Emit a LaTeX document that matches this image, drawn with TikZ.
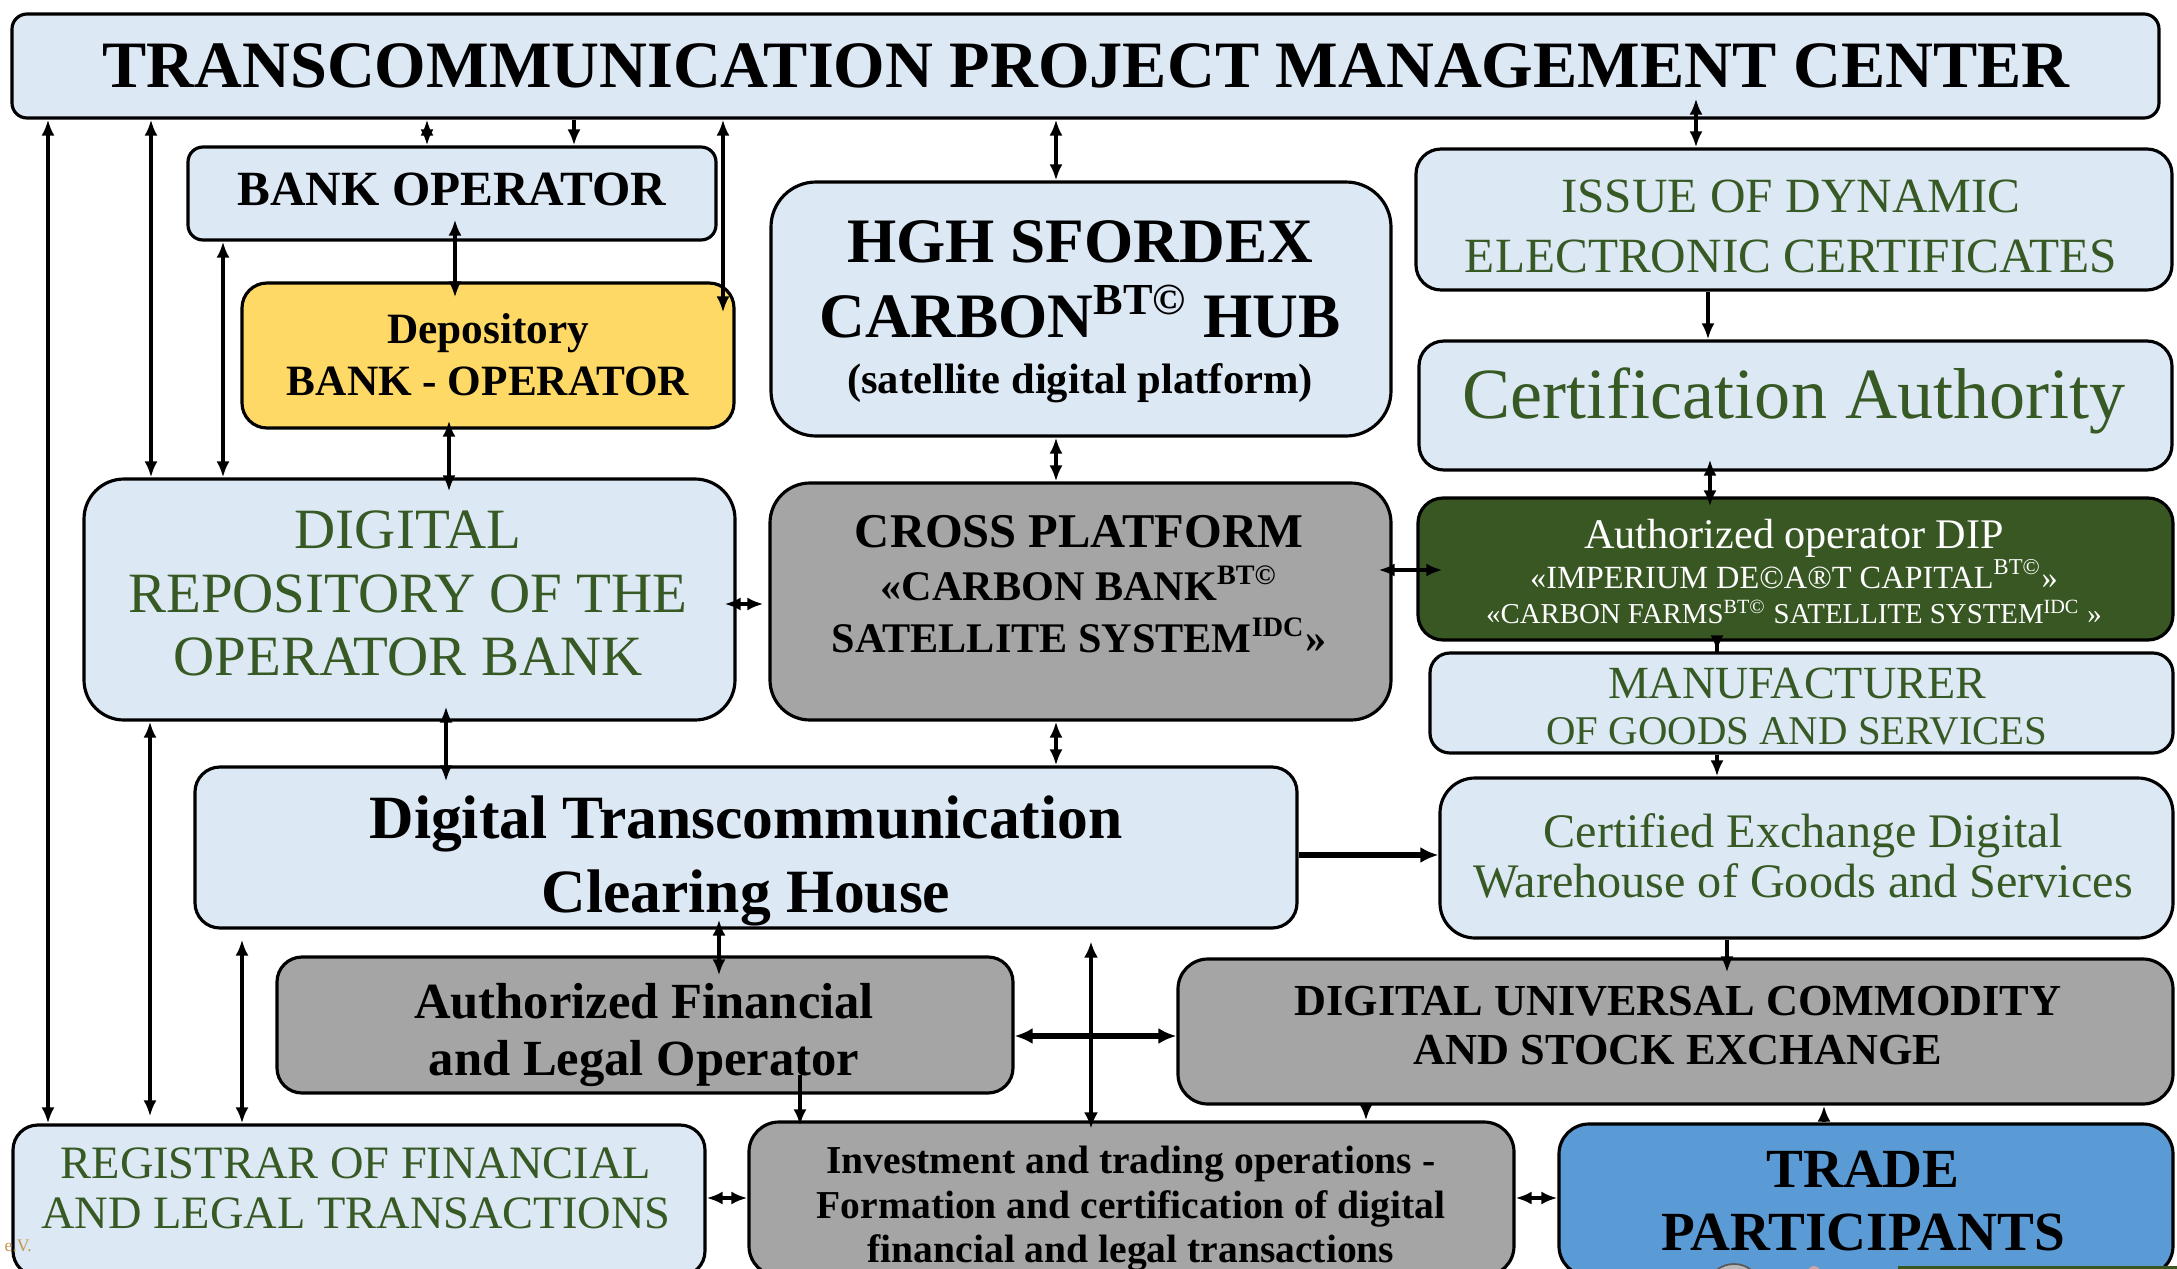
\documentclass[tikz,border=0pt]{standalone}
\usepackage{fontspec}
\setmainfont{Liberation Serif}
\usetikzlibrary{arrows.meta,fit,calc}
\definecolor{lblue}{HTML}{DDE8F5}
\definecolor{gbox}{HTML}{A5A5A5}
\definecolor{ybox}{HTML}{FFD966}
\definecolor{dgreen}{HTML}{385723}
\definecolor{gtext}{HTML}{375A24}
\definecolor{bbox}{HTML}{5B9BD5}
\definecolor{evcol}{HTML}{C4964E}
\newcommand{\fsz}[1]{\fontsize{#1}{#1}\selectfont}
\begin{document}
\begin{tikzpicture}[x=0.01cm,y=-0.01cm,
  box/.style={draw=black,line width=0.9pt,inner sep=0pt},
  bluebox/.style={box,fill=lblue},
  graybox/.style={box,fill=gbox},
  tx/.style={anchor=base,inner sep=0pt},
  gtx/.style={tx,text=gtext},
  a1/.style={-{Latex[length=0.16cm,width=0.13cm]},line width=1.05pt},
  a2/.style={{Latex[length=0.16cm,width=0.13cm]}-{Latex[length=0.16cm,width=0.13cm]},line width=1.05pt},
  a1t/.style={-{Latex[length=0.18cm,width=0.16cm]},line width=1.7pt},
  a2t/.style={{Latex[length=0.18cm,width=0.16cm]}-{Latex[length=0.18cm,width=0.16cm]},line width=1.7pt},
  a2m/.style={{Latex[length=0.16cm,width=0.14cm]}-{Latex[length=0.16cm,width=0.14cm]},line width=1.3pt}
]
\useasboundingbox (0,0) rectangle (2177,1269);
\clip (0,0) rectangle (2177,1269);
\fill[white] (0,0) rectangle (2177,1269);

% ---------- boxes ----------
\node[bluebox,rounded corners=0.15cm,fit={(12,14) (2159,118)}] (top) {};
\node[bluebox,rounded corners=0.15cm,fit={(188,147) (716,240)}] (bank) {};
\node[box,fill=ybox,rounded corners=0.25cm,fit={(242,283) (734,428)}] (dep) {};
\node[bluebox,rounded corners=0.45cm,fit={(771,182) (1391,436)}] (hgh) {};
\node[bluebox,rounded corners=0.25cm,fit={(1416,149) (2172,290)}] (issue) {};
\node[bluebox,rounded corners=0.25cm,fit={(1419,341) (2172,470)}] (cert) {};
\node[bluebox,rounded corners=0.4cm,fit={(84,479) (735,720)}] (repo) {};
\node[graybox,rounded corners=0.4cm,fit={(770,483) (1391,720)}] (cross) {};
\node[box,fill=dgreen,rounded corners=0.25cm,fit={(1418,498) (2173,640)}] (dip) {};
\node[bluebox,rounded corners=0.2cm,fit={(1430,653) (2173,753)}] (manu) {};
\node[bluebox,rounded corners=0.35cm,fit={(1440,778) (2173,938)}] (certx) {};
\node[bluebox,rounded corners=0.25cm,fit={(195,767) (1297,928)}] (clear) {};
\node[graybox,rounded corners=0.25cm,fit={(277,957) (1013,1093)}] (af) {};
\node[graybox,rounded corners=0.3cm,fit={(1178,959) (2173,1104)}] (du) {};
\node[bluebox,rounded corners=0.25cm,fit={(13,1125) (705,1276)}] (reg) {};
\node[graybox,rounded corners=0.3cm,fit={(749,1122) (1514,1276)}] (inv) {};
\node[box,fill=bbox,rounded corners=0.3cm,fit={(1559,1124) (2173,1276)}] (trade) {};

% small cut-off details at the bottom edge
\draw[fill=gray!55,draw=gray!70!black,line width=0.5pt] (1734,1284) ellipse [x radius=24,y radius=20];
\fill[pink!60!gray] (1814,1272) circle [radius=6];
\fill[dgreen] (1898,1266) rectangle (2177,1270);

% ---------- texts ----------
\node[tx,font=\fsz{18.85}\bfseries] (tTitle) at (1086,87) {TRANSCOMMUNICATION PROJECT MANAGEMENT CENTER};
\node[tx,font=\fsz{14}\bfseries] (tBank) at (452,205) {BANK OPERATOR};
\node[tx,font=\fsz{12.3}\bfseries] (tDep1) at (488,343) {Depository};
\node[tx,font=\fsz{12.3}\bfseries] (tDep2) at (488,395) {BANK - OPERATOR};
\node[tx,font=\fsz{18}\bfseries] (tHgh1) at (1080,262) {HGH SFORDEX};
\node[tx,font=\fsz{18}\bfseries] (tHgh2) at (1080,337) {CARBON\textsuperscript{BT©} HUB};
\node[tx,font=\fsz{12.1}\bfseries] (tHgh3) at (1080,393) {(satellite digital platform)};
\node[gtx,font=\fsz{14}] (tIss1) at (1791,212) {ISSUE OF DYNAMIC};
\node[gtx,font=\fsz{14}] (tIss2) at (1791,272) {ELECTRONIC CERTIFICATES};
\node[gtx,font=\fsz{20.5}] (tCert) at (1794,418) {Certification Authority};
\node[gtx,font=\fsz{16.2}] (tRepo1) at (408,548) {DIGITAL};
\node[gtx,font=\fsz{16.2}] (tRepo2) at (408,612) {REPOSITORY OF THE};
\node[gtx,font=\fsz{16.2}] (tRepo3) at (408,675) {OPERATOR BANK};
\node[tx,font=\fsz{13.8}\bfseries] (tCross1) at (1079,547) {CROSS PLATFORM};
\node[tx,font=\fsz{12}\bfseries] (tCross2) at (1079,600) {«CARBON BANK\textsuperscript{BT©}};
\node[tx,font=\fsz{12}\bfseries] (tCross3) at (1079,652) {SATELLITE SYSTEM\textsuperscript{IDC}»};
\node[tx,text=white,font=\fsz{12}] (tDip1) at (1794,548) {Authorized operator DIP};
\node[tx,text=white,font=\fsz{9.2}] (tDip2) at (1794,588) {«IMPERIUM DE©A®T CAPITAL\textsuperscript{BT©}»};
\node[tx,text=white,font=\fsz{8.2}] (tDip3) at (1794,623) {«CARBON FARMS\textsuperscript{BT©} SATELLITE SYSTEM\textsuperscript{IDC} »};
\node[gtx,font=\fsz{13.1}] (tManu1) at (1797,698) {MANUFACTURER};
\node[gtx,font=\fsz{11.6}] (tManu2) at (1797,744) {OF GOODS AND SERVICES};
\node[gtx,font=\fsz{13.7}] (tCx1) at (1803,847) {Certified Exchange Digital};
\node[gtx,font=\fsz{13.7}] (tCx2) at (1803,897) {Warehouse of Goods and Services};
\node[tx,font=\fsz{17.5}\bfseries] (tCl1) at (746,838) {Digital Transcommunication};
\node[tx,font=\fsz{17.5}\bfseries] (tCl2) at (746,912) {Clearing House};
\node[tx,font=\fsz{14.4}\bfseries] (tAf1) at (644,1018) {Authorized Financial};
\node[tx,font=\fsz{14.4}\bfseries] (tAf2) at (644,1075) {and Legal Operator};
\node[tx,font=\fsz{12.6}\bfseries] (tDu1) at (1678,1015) {DIGITAL UNIVERSAL COMMODITY};
\node[tx,font=\fsz{12.6}\bfseries] (tDu2) at (1678,1064) {AND STOCK EXCHANGE};
\node[gtx,font=\fsz{13.2}] (tReg1) at (356,1178) {REGISTRAR OF FINANCIAL};
\node[gtx,font=\fsz{13.2}] (tReg2) at (356,1228) {AND LEGAL TRANSACTIONS};
\node[tx,font=\fsz{11.25}\bfseries] (tInv1) at (1131,1173) {Investment and trading operations -};
\node[tx,font=\fsz{11.25}\bfseries] (tInv2) at (1131,1218) {Formation and certification of digital};
\node[tx,font=\fsz{11.25}\bfseries] (tInv3) at (1131,1262) {financial and legal transactions};
\node[tx,font=\fsz{15.7}\bfseries] (tTr1) at (1863,1187) {TRADE};
\node[tx,font=\fsz{15.7}\bfseries] (tTr2) at (1863,1250) {PARTICIPANTS};
\node[anchor=base west,inner sep=0pt,text=evcol,font=\fsz{5}] (tEv) at (4,1251) {e.V.};

% ---------- connector columns / rows ----------
\coordinate (k48) at (48,0);
\coordinate (k151) at (151,0);
\coordinate (k150) at (150,0);
\coordinate (k223) at (223,0);
\coordinate (k242) at (242,0);
\coordinate (k427) at (427,0);
\coordinate (k574) at (574,0);
\coordinate (k723) at (723,0);
\coordinate (k455) at (455,0);
\coordinate (k449) at (449,0);
\coordinate (k446) at (446,0);
\coordinate (k1056) at (1056,0);
\coordinate (k1696) at (1696,0);
\coordinate (k1708) at (1708,0);
\coordinate (k1710) at (1710,0);
\coordinate (k1717) at (1717,0);
\coordinate (k1727) at (1727,0);
\coordinate (k719) at (719,0);
\coordinate (k1091) at (1091,0);
\coordinate (k800) at (800,0);
\coordinate (k1366) at (1366,0);
\coordinate (k1824) at (1824,0);
\coordinate (r604) at (0,604);
\coordinate (r570) at (0,570);
\coordinate (r855) at (0,855);
\coordinate (r1036) at (0,1036);
\coordinate (r1198) at (0,1198);

% ---------- connectors ----------
\draw[a2] (top.south -| k48) -- (reg.north -| k48);
\draw[a2] (top.south -| k151) -- (repo.north -| k151);
\draw[a2,shorten >=0.07cm] (repo.south -| k150) -- (reg.north -| k150);
\draw[a2] (bank.south -| k223) -- (repo.north -| k223);
\draw[a2,shorten <=0.1cm] (clear.south -| k242) -- (reg.north -| k242);
\draw[a2] (top.south -| k427) -- (bank.north -| k427);
\draw[a1] (top.south -| k574) -- (bank.north -| k574);
\draw[a2,shorten >=-0.31cm] (top.south -| k723) -- (dep.north -| k723);
\draw[a2,shorten <=-0.22cm,shorten >=-0.16cm] (bank.south -| k455) -- (dep.north -| k455);
\draw[a2,shorten <=-0.09cm,shorten >=-0.14cm] (dep.south -| k449) -- (repo.north -| k449);
\draw[a2,shorten <=-0.15cm,shorten >=-0.16cm] (repo.south -| k446) -- (clear.north -| k446);
\draw[a2] (top.south -| k1056) -- (hgh.north -| k1056);
\draw[a2] (hgh.south -| k1056) -- (cross.north -| k1056);
\draw[a2] (cross.south -| k1056) -- (clear.north -| k1056);
\draw[a2,shorten <=-0.12cm,shorten >=0.05cm] (repo.east |- r604) -- (cross.west |- r604);
\draw[a2,shorten <=-0.14cm,shorten >=-0.26cm] (cross.east |- r570) -- (dip.west |- r570);
\draw[a2,shorten <=-0.21cm] (top.south -| k1696) -- (issue.north -| k1696);
\draw[a1] (issue.south -| k1708) -- (cert.north -| k1708);
\draw[a2,shorten <=-0.12cm,shorten >=-0.10cm] (cert.south -| k1710) -- (dip.north -| k1710);
\draw[a1,shorten <=-0.1cm] (dip.south -| k1717) -- (manu.north -| k1717);
\draw[a1] (manu.south -| k1717) -- (certx.north -| k1717);
\draw[a1t] (clear.east |- r855) -- (certx.west |- r855);
\draw[a1,shorten >=-0.15cm] (certx.south -| k1727) -- (du.north -| k1727);
\draw[a2,shorten <=-0.1cm,shorten >=-0.2cm] (clear.south -| k719) -- (af.north -| k719);
\draw[a2t] (af.east |- r1036) -- (du.west |- r1036);
\draw[a2m,shorten <=0.12cm,shorten >=-0.08cm] (clear.south -| k1091) -- (inv.north -| k1091);
\draw[a1,shorten <=-0.2cm,shorten >=-0.05cm] (af.south -| k800) -- (inv.north -| k800);
\draw[a1] (du.south -| k1366) -- (inv.north -| k1366);
\draw[a1] (trade.north -| k1824) -- (du.south -| k1824);
\draw[a2] (reg.east |- r1198) -- (inv.west |- r1198);
\draw[a2] (inv.east |- r1198) -- (trade.west |- r1198);
\end{tikzpicture}
\end{document}
